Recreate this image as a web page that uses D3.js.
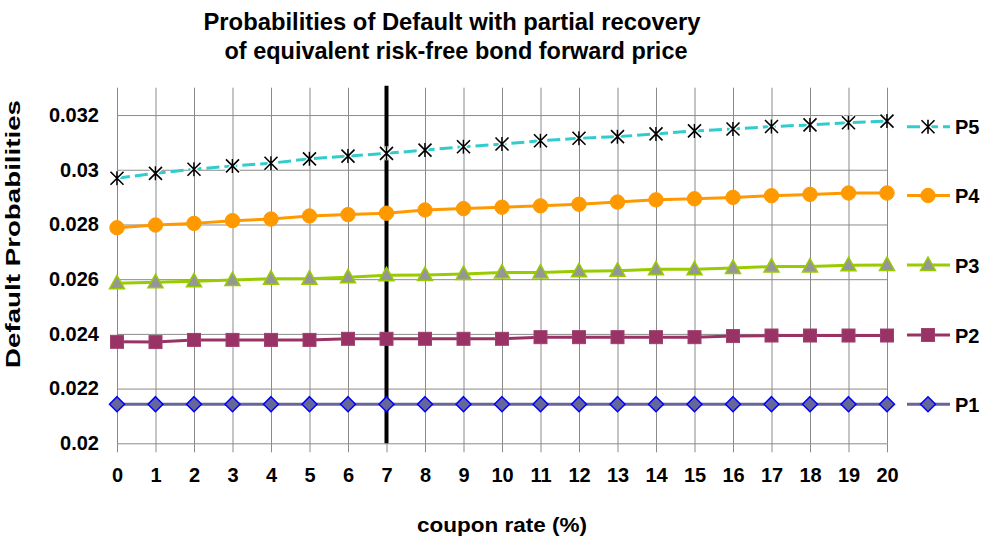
<!DOCTYPE html>
<html>
<head>
<meta charset="utf-8">
<script src="https://cdn.jsdelivr.net/npm/d3@7"></script>
<style>
  html, body { margin: 0; padding: 0; background: #fff; }
  svg { display: block; }
  text { font-family: "Liberation Sans", Arial, sans-serif; fill: #000; }
</style>
</head>
<body>
<svg id="chart" width="981" height="540"></svg>
<script>
// ---- data ----
const couponRates = [0,1,2,3,4,5,6,7,8,9,10,11,12,13,14,15,16,17,18,19,20];
const P1 = [0.02143,0.02143,0.02143,0.02143,0.02143,0.02143,0.02143,0.02143,0.02143,0.02143,0.02143,0.02143,0.02143,0.02143,0.02143,0.02143,0.02143,0.02143,0.02143,0.02143,0.02143];
const P2 = [0.02371,0.02370,0.02378,0.02378,0.02378,0.02378,0.02382,0.02382,0.02382,0.02382,0.02382,0.02388,0.02388,0.02388,0.02388,0.02388,0.02392,0.02394,0.02394,0.02394,0.02394];
const P3 = [0.02585,0.02589,0.02592,0.02597,0.02602,0.02602,0.02607,0.02614,0.02615,0.02619,0.02624,0.02624,0.02629,0.02631,0.02636,0.02636,0.02641,0.02646,0.02646,0.02651,0.02652];
const P4 = [0.02788,0.02798,0.02804,0.02814,0.02820,0.02831,0.02836,0.02841,0.02853,0.02858,0.02863,0.02868,0.02874,0.02882,0.02890,0.02894,0.02899,0.02905,0.02910,0.02915,0.02915];
const P5 = [0.02969,0.02987,0.03002,0.03014,0.03024,0.03040,0.03050,0.03060,0.03072,0.03084,0.03094,0.03106,0.03115,0.03121,0.03131,0.03142,0.03149,0.03158,0.03164,0.03172,0.03178];
const seriesNames = ["P1","P2","P3","P4","P5"];
const yTickValues = [0.02,0.022,0.024,0.026,0.028,0.03,0.032];
const yTickLabels = ["0.02","0.022","0.024","0.026","0.028","0.03","0.032"];
const xTickLabels = couponRates.map(String);
const markerLineAt = 7;
const titleLines = ["Probabilities of Default with partial recovery","of equivalent risk-free bond forward price"];
const xTitle = "coupon rate (%)";
const yTitle = "Default Probabilities";

// ---- layout ----
const svg = d3.select("#chart");
const L = 117, R = 887, T = 87.7, B = 443.3;
const x = d3.scaleLinear().domain([0,20]).range([L,R]);
const y = d3.scaleLinear().domain([0.020,0.033]).range([B,T]);

const styles = {
  P1: {line:"#666699", width:3, dash:null, marker:"diamond", fill:"#666699", stroke:"#0000FF"},
  P2: {line:"#993366", width:3, dash:null, marker:"square", fill:"#993366", stroke:"#a04070"},
  P3: {line:"#99CC00", width:3, dash:null, marker:"triangle", fill:"#969696", stroke:"#99CC00"},
  P4: {line:"#FF9900", width:3, dash:null, marker:"circle", fill:"#FF9900", stroke:"#FF9900"},
  P5: {line:"#33CCCC", width:3, dash:"13,5", marker:"star", fill:"none", stroke:"#000"}
};
const dataMap = {P1,P2,P3,P4,P5};

// ---- gridlines ----
const grid = svg.append("g");
grid.append("g")
  .attr("transform", `translate(0,${B})`)
  .call(d3.axisBottom(x).tickValues(couponRates).tickSize(-(B-T)).tickFormat(""))
  .call(g => g.select(".domain").remove())
  .call(g => g.selectAll("line").attr("stroke","#8a8a8a").attr("stroke-width",1));
grid.append("g")
  .attr("transform", `translate(${L},0)`)
  .call(d3.axisLeft(y).tickValues(yTickValues).tickSize(-(R-L)).tickFormat(""))
  .call(g => g.select(".domain").remove())
  .call(g => g.selectAll("line").attr("stroke","#8a8a8a").attr("stroke-width",1));

// ---- axes with labels ----
const xAxis = svg.append("g")
  .attr("transform", `translate(0,${B})`)
  .call(d3.axisBottom(x).tickValues(couponRates).tickSize(9).tickPadding(16)
        .tickFormat((d,i) => xTickLabels[i]));
xAxis.select(".domain").remove();
xAxis.selectAll("line").attr("stroke","#8a8a8a");
xAxis.selectAll("text").attr("font-size", 20).attr("font-weight","bold")
  .attr("font-family","Liberation Sans, Arial, sans-serif").attr("fill","#000");

const yAxis = svg.append("g")
  .attr("transform", `translate(${L},0)`)
  .call(d3.axisLeft(y).tickValues(yTickValues).tickSize(0).tickPadding(18)
        .tickFormat((d,i) => yTickLabels[i]));
yAxis.select(".domain").remove();
yAxis.selectAll("text").attr("font-size", 20).attr("font-weight","bold")
  .attr("font-family","Liberation Sans, Arial, sans-serif").attr("fill","#000");

// ---- vertical black line at 7 ----
svg.append("line")
  .attr("x1", x(markerLineAt)).attr("x2", x(markerLineAt))
  .attr("y1", T - 2).attr("y2", B)
  .attr("stroke","#000").attr("stroke-width",4);

// ---- markers ----
function drawMarker(g, type, s) {
  if (type === "diamond") {
    g.append("path").attr("d","M0,-7.5L7.5,0L0,7.5L-7.5,0Z")
      .attr("fill", s.fill).attr("stroke", s.stroke).attr("stroke-width",1.5);
  } else if (type === "square") {
    g.append("rect").attr("x",-6.5).attr("y",-6.5).attr("width",13).attr("height",13)
      .attr("fill", s.fill).attr("stroke", s.stroke).attr("stroke-width",1);
  } else if (type === "triangle") {
    g.append("path").attr("d","M0,-8L7.5,5.5L-7.5,5.5Z")
      .attr("fill", s.fill).attr("stroke", s.stroke).attr("stroke-width",1.5);
  } else if (type === "circle") {
    g.append("circle").attr("r",7.2).attr("fill", s.fill).attr("stroke", s.stroke).attr("stroke-width",1);
  } else if (type === "star") {
    const d = "M-6.5,-6.5L6.5,6.5M-6.5,6.5L6.5,-6.5M0,-7L0,7";
    g.append("path").attr("d", d).attr("stroke","#fff").attr("stroke-width",4).attr("fill","none");
    g.append("path").attr("d", d).attr("stroke","#000").attr("stroke-width",1.6).attr("fill","none");
  }
}

// ---- series ----
const line = d3.line().x((d,i) => x(couponRates[i])).y(d => y(d));
seriesNames.forEach(name => {
  const s = styles[name];
  const vals = dataMap[name];
  svg.append("path").datum(vals)
    .attr("d", line)
    .attr("fill","none").attr("stroke", s.line).attr("stroke-width", s.width)
    .attr("stroke-dasharray", s.dash);
  const mg = svg.append("g");
  vals.forEach((v,i) => {
    const g = mg.append("g").attr("transform", `translate(${x(couponRates[i])},${y(v)})`);
    drawMarker(g, s.marker, s);
  });
});

// ---- legend ----
const legendY = {P5:126.7, P4:195.5, P3:265, P2:335, P1:404.3};
seriesNames.forEach(name => {
  const s = styles[name];
  const ly = legendY[name];
  const g = svg.append("g");
  g.append("line").attr("x1",907).attr("x2",950).attr("y1",ly).attr("y2",ly)
    .attr("stroke", s.line).attr("stroke-width", s.width).attr("stroke-dasharray", s.dash);
  const mg = g.append("g").attr("transform", `translate(928,${ly})`);
  drawMarker(mg, s.marker, s);
  g.append("text").attr("x",955).attr("y",ly+7.5)
    .attr("font-size",20).attr("font-weight","bold").text(name);
});

// ---- titles ----
svg.append("text").attr("x",452).attr("y",30).attr("text-anchor","middle")
  .attr("font-size",24).attr("font-weight","bold")
  .attr("textLength",497).attr("lengthAdjust","spacingAndGlyphs")
  .text(titleLines[0]);
svg.append("text").attr("x",456).attr("y",59).attr("text-anchor","middle")
  .attr("font-size",24).attr("font-weight","bold")
  .attr("textLength",463).attr("lengthAdjust","spacingAndGlyphs")
  .text(titleLines[1]);

svg.append("text").attr("x",502).attr("y",532).attr("text-anchor","middle")
  .attr("font-size",20).attr("font-weight","bold")
  .attr("textLength",170).attr("lengthAdjust","spacingAndGlyphs")
  .text(xTitle);

svg.append("text").attr("transform","translate(19.5,234) rotate(-90)")
  .attr("text-anchor","middle")
  .attr("font-size",20).attr("font-weight","bold")
  .attr("textLength",268).attr("lengthAdjust","spacingAndGlyphs")
  .text(yTitle);
</script>
</body>
</html>
